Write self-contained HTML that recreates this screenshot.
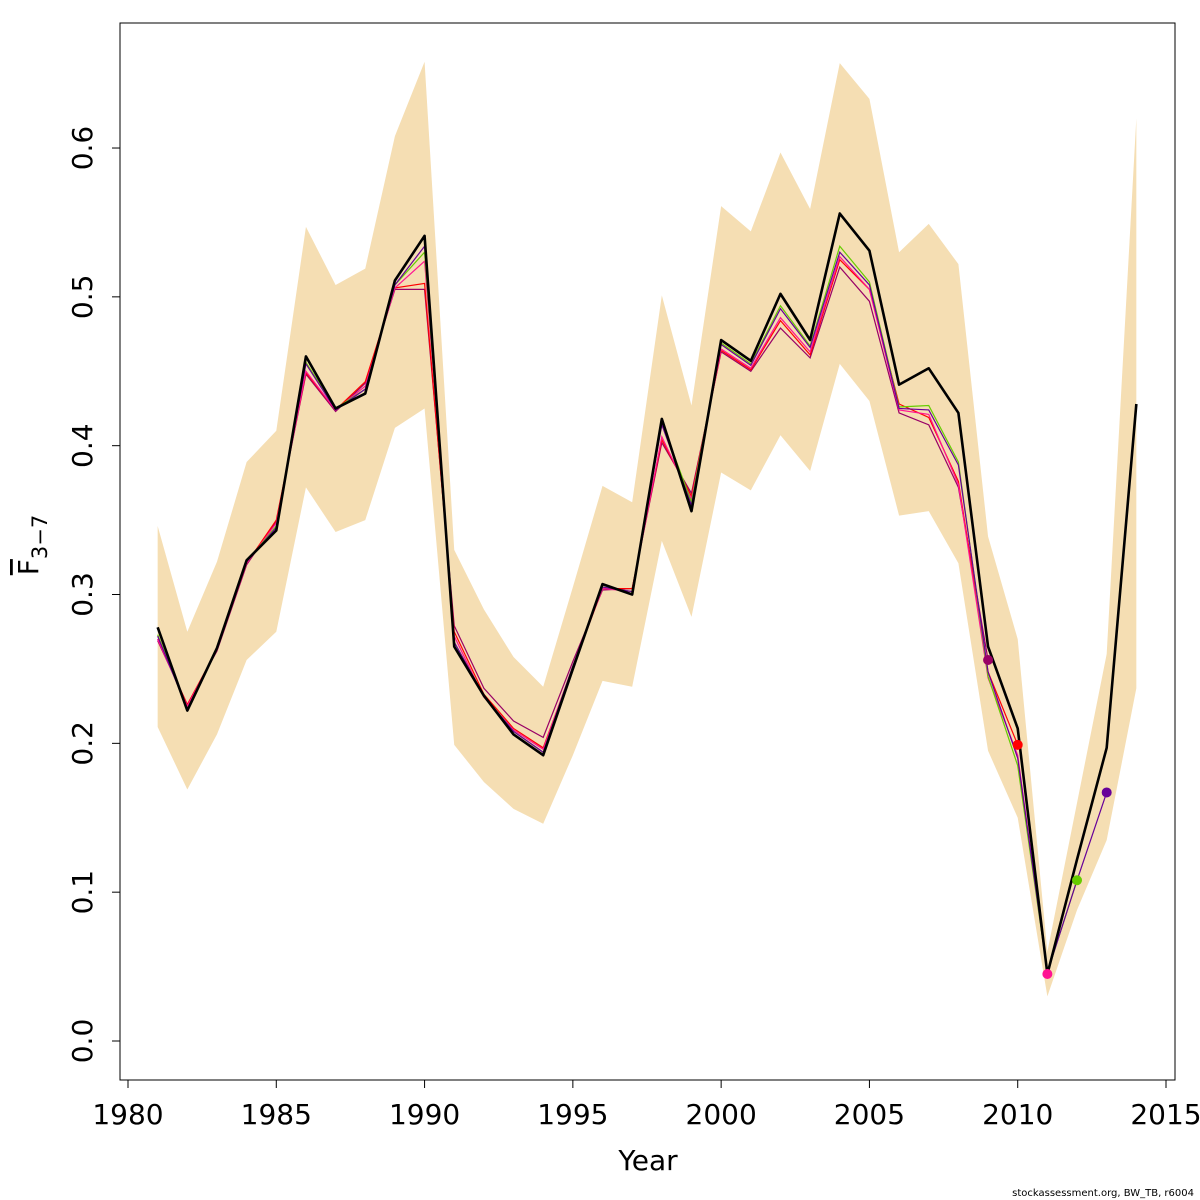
<!DOCTYPE html>
<html><head><meta charset="utf-8"><style>
body{margin:0;background:#fff;}
svg{display:block;font-family:"DejaVu Sans","Liberation Sans",sans-serif;}
</style></head><body>
<svg id="chart" width="1200" height="1200" viewBox="0 0 1200 1200">
<rect x="120" y="23" width="1055" height="1057" fill="none" stroke="#000" stroke-width="1"/>
<g id="band"></g>
<g id="lines"></g>
<g id="xaxis"></g>
<g id="yaxis"></g>
<text x="648" y="1170" font-size="28" text-anchor="middle">Year</text>
<g transform="translate(38,545) rotate(-90)">
<text x="0" y="0" font-size="28" text-anchor="middle"><tspan text-decoration="overline">F</tspan><tspan font-size="21" dy="9">3−7</tspan></text>
</g>
<text x="1194" y="1196" font-size="10" text-anchor="end">stockassessment.org, BW_TB, r6004</text>
</svg>
<script>
const years=[1981,1982,1983,1984,1985,1986,1987,1988,1989,1990,1991,1992,1993,1994,1995,1996,1997,1998,1999,2000,2001,2002,2003,2004,2005,2006,2007,2008,2009,2010,2011,2012,2013,2014];
const mainF=[0.278,0.222,0.264,0.323,0.343,0.460,0.425,0.435,0.511,0.541,0.265,0.232,0.206,0.192,0.250,0.307,0.300,0.418,0.356,0.471,0.457,0.502,0.471,0.556,0.531,0.441,0.452,0.422,0.265,0.210,0.045,0.122,0.197,0.428];
const upperF=[0.346,0.275,0.322,0.389,0.410,0.547,0.508,0.519,0.608,0.658,0.330,0.290,0.258,0.238,0.305,0.373,0.362,0.501,0.427,0.561,0.544,0.597,0.559,0.657,0.633,0.530,0.549,0.522,0.339,0.270,0.060,0.160,0.260,0.620];
const lowerF=[0.211,0.169,0.206,0.256,0.275,0.372,0.342,0.350,0.412,0.425,0.199,0.174,0.156,0.146,0.192,0.242,0.238,0.336,0.285,0.382,0.370,0.407,0.383,0.455,0.430,0.353,0.356,0.321,0.195,0.150,0.030,0.088,0.135,0.237];
const peel2013=[0.272,0.223,0.264,0.322,0.345,0.455,0.424,0.438,0.508,0.534,0.268,0.232,0.208,0.194,0.252,0.305,0.302,0.414,0.360,0.468,0.454,0.492,0.466,0.530,0.508,0.425,0.424,0.387,0.248,0.190,0.046,0.108,0.167];
const peel2012=[0.273,0.223,0.264,0.322,0.346,0.456,0.425,0.438,0.508,0.530,0.268,0.232,0.208,0.194,0.252,0.305,0.302,0.416,0.362,0.469,0.455,0.494,0.467,0.534,0.510,0.426,0.427,0.389,0.245,0.185,0.046,0.108];
const peel2011=[0.270,0.225,0.263,0.321,0.348,0.450,0.424,0.440,0.506,0.524,0.272,0.231,0.209,0.196,0.252,0.304,0.302,0.406,0.364,0.465,0.452,0.486,0.463,0.527,0.505,0.424,0.421,0.374,0.244,0.192,0.045];
const peel2010=[0.270,0.226,0.263,0.321,0.350,0.449,0.424,0.443,0.506,0.509,0.275,0.233,0.210,0.197,0.251,0.304,0.304,0.404,0.366,0.464,0.451,0.484,0.461,0.525,0.505,0.428,0.419,0.376,0.248,0.199];
const peel2009=[0.269,0.226,0.262,0.320,0.349,0.448,0.423,0.442,0.505,0.505,0.279,0.237,0.215,0.204,0.255,0.303,0.304,0.402,0.368,0.463,0.450,0.479,0.459,0.520,0.497,0.422,0.414,0.372,0.256];
const peels=[[peel2009,'#990066','peel-2009'],[peel2010,'#FF0000','peel-2010'],[peel2011,'#FF1493','peel-2011'],[peel2012,'#66CC00','peel-2012'],[peel2013,'#660099','peel-2013']];
const xTicks=[1980,1985,1990,1995,2000,2005,2010,2015];
const yTicks=[0.0,0.1,0.2,0.3,0.4,0.5,0.6];
const yTickLabels=['0.0','0.1','0.2','0.3','0.4','0.5','0.6'];
const X=y=>128+(y-1980)*(1166-128)/35;
const Y=v=>1041-v*1488.3;
const NS='http://www.w3.org/2000/svg';
function mk(tag,attrs,parent){const e=document.createElementNS(NS,tag);for(const k in attrs)e.setAttribute(k,attrs[k]);parent.appendChild(e);return e;}
const band=document.getElementById('band');
let pts=years.map((y,i)=>X(y)+','+Y(upperF[i]));
for(let i=years.length-1;i>=0;i--)pts.push(X(years[i])+','+Y(lowerF[i]));
const poly=mk('polygon',{points:pts.join(' '),fill:'#F5DEB3',stroke:'none'},band);


const lines=document.getElementById('lines');
peels.forEach(([arr,col,name])=>{
  const p=mk('polyline',{points:arr.map((v,i)=>X(years[i])+','+Y(v)).join(' '),fill:'none',stroke:col,'stroke-width':1.2},lines);
  
  
});
const mp=mk('polyline',{points:mainF.map((v,i)=>X(years[i])+','+Y(v)).join(' '),fill:'none',stroke:'#000','stroke-width':2.6,'stroke-linejoin':'round'},lines);


peels.forEach(([arr,col,name])=>{
  const n=arr.length-1;
  const c=mk('circle',{cx:X(years[n]),cy:Y(arr[n]),r:5,fill:col},lines);
  
  
});
const xa=document.getElementById('xaxis');
mk('line',{x1:X(1980),y1:1080,x2:X(2015),y2:1080,stroke:'#000'},xa);
xTicks.forEach(t=>{
  mk('line',{x1:X(t),y1:1080,x2:X(t),y2:1088,stroke:'#000'},xa);
  const tx=mk('text',{x:X(t),y:1124,'font-size':28,'text-anchor':'middle'},xa);
  tx.textContent=t;
  
  
});
const ya=document.getElementById('yaxis');
mk('line',{x1:120,y1:Y(0),x2:120,y2:Y(0.6),stroke:'#000'},ya);
yTicks.forEach((t,i)=>{
  mk('line',{x1:112,y1:Y(t),x2:120,y2:Y(t),stroke:'#000'},ya);
  const tx=mk('text',{x:0,y:0,'font-size':28,'text-anchor':'middle',transform:`translate(92,${Y(t)}) rotate(-90)`},ya);
  tx.textContent=yTickLabels[i];
  
  
});
</script>
</body></html>
